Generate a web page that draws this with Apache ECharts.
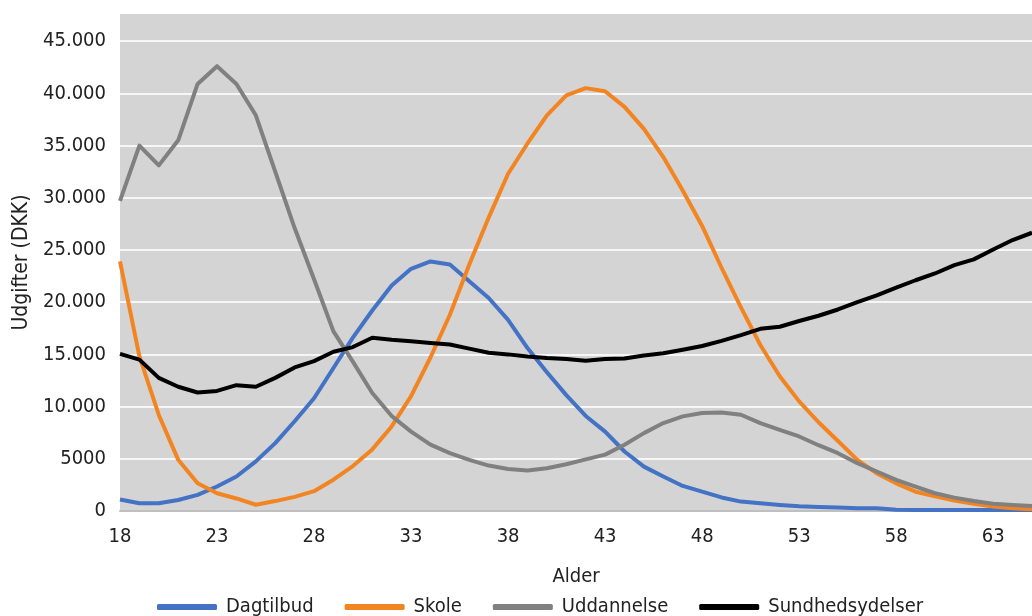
<!DOCTYPE html>
<html>
<head>
<meta charset="utf-8">
<script src="https://cdn.jsdelivr.net/npm/echarts@6/dist/echarts.min.js"></script>
<style>
html,body{margin:0;padding:0;background:#fff;}
#chart{width:1032px;height:616px;}
</style>
</head>
<body>
<div id="chart"></div>
<script>
const ages = ['18','19','20','21','22','23','24','25','26','27','28','29','30','31','32','33','34','35','36','37','38','39','40','41','42','43','44','45','46','47','48','49','50','51','52','53','54','55','56','57','58','59','60','61','62','63','64','65'];

const dagtilbud = [1100,750,750,1050,1550,2350,3300,4750,6500,8600,10800,13700,16600,19200,21600,23200,23900,23600,22000,20400,18300,15600,13300,11100,9100,7600,5700,4250,3300,2400,1850,1300,900,740,580,450,380,330,260,260,130,100,100,100,100,100,100,100];

const skole = [23900,14800,9200,4900,2650,1700,1200,600,950,1350,1900,3000,4300,5900,8100,11000,14700,18800,23600,28100,32300,35200,37900,39800,40500,40200,38700,36600,33900,30700,27300,23300,19500,15900,12900,10500,8500,6700,4900,3600,2650,1850,1400,1000,700,420,260,160];

const uddannelse = [29700,35000,33100,35500,40900,42600,40900,37900,32500,27100,22200,17200,14300,11300,9100,7600,6350,5550,4900,4350,4030,3870,4100,4480,4950,5400,6340,7460,8420,9060,9380,9440,9220,8420,7780,7140,6300,5540,4580,3780,2980,2340,1700,1280,960,700,576,480];

const sundhedsydelser = [15050,14500,12750,11900,11350,11500,12050,11900,12750,13750,14350,15250,15700,16600,16400,16250,16100,15950,15550,15150,15000,14800,14650,14550,14400,14550,14600,14900,15100,15450,15800,16300,16850,17450,17650,18200,18700,19300,20000,20650,21400,22100,22750,23550,24100,25050,25950,26650];

const yTicks = [0,5000,10000,15000,20000,25000,30000,35000,40000,45000];
const yTickLabels = ['0','5000','10.000','15.000','20.000','25.000','30.000','35.000','40.000','45.000'];

const seriesNames = ['Dagtilbud','Skole','Uddannelse','Sundhedsydelser'];
const seriesColors = ['#4472C4','#F28522','#808080','#000000'];
const seriesData = [dagtilbud, skole, uddannelse, sundhedsydelser];

const FONT = "'DejaVu Sans Condensed','DejaVu Sans',sans-serif";
const TXT = '#222222';

const chart = echarts.init(document.getElementById('chart'), null, {renderer:'canvas'});
chart.setOption({
  animation:false,
  backgroundColor:'#ffffff',
  textStyle:{fontFamily:FONT},
  grid:{left:120,right:0,top:14,bottom:105,show:true,backgroundColor:'#d4d4d4',borderWidth:0,containLabel:false},
  xAxis:{
    type:'category',
    data:ages,
    boundaryGap:false,
    name:'Alder',
    nameLocation:'middle',
    nameGap:56,
    nameTextStyle:{fontSize:20,color:TXT,fontFamily:FONT},
    axisLine:{show:true,lineStyle:{color:'#bfbfbf',width:2}},
    axisTick:{show:false},
    splitLine:{show:false},
    axisLabel:{interval:4,fontSize:20,color:TXT,margin:16,fontFamily:FONT}
  },
  yAxis:{
    type:'value',
    min:0,
    max:47600,
    interval:5000,
    name:'Udgifter (DKK)',
    nameLocation:'middle',
    nameGap:88,
    nameTextStyle:{fontSize:21,color:TXT,fontFamily:FONT},
    axisLine:{show:false},
    axisTick:{show:false},
    splitLine:{show:true,showMinLine:false,showMaxLine:false,lineStyle:{color:'#f6f6f6',width:2}},
    axisLabel:{
      showMaxLabel:false,
      fontSize:20,color:TXT,margin:14,fontFamily:FONT,
      formatter:function(v){const i=yTicks.indexOf(v);return i>=0?yTickLabels[i]:'';}
    }
  },
  legend:{
    left:152,
    top:592,
    icon:'roundRect',
    itemWidth:60,
    itemHeight:6,
    itemGap:31,
    textStyle:{fontSize:20,color:TXT,fontFamily:FONT,padding:[0,0,0,4]},
    data:seriesNames
  },
  series:seriesNames.map((n,i)=>({
    name:n,
    type:'line',
    data:seriesData[i],
    showSymbol:false,
    symbol:'none',
    smooth:false,
    lineStyle:{color:seriesColors[i],width:4,join:'round'},
    itemStyle:{color:seriesColors[i]},
    z:2+i
  }))
});
</script>
</body>
</html>
